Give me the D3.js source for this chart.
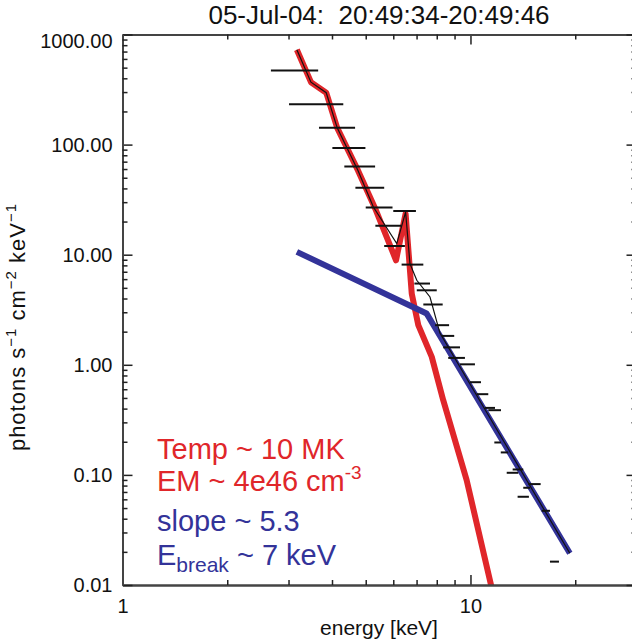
<!DOCTYPE html>
<html><head><meta charset="utf-8">
<script src="https://cdn.jsdelivr.net/npm/d3@7"></script>
<style>
body{margin:0;background:#fff}
svg{display:block}
text{font-family:"Liberation Sans",Arial,Helvetica,sans-serif}
</style>
</head><body>
<svg id="chart" width="632" height="642"></svg>
<script>
// ---------------- data ----------------
const titleText = "05-Jul-04:  20:49:34-20:49:46";
const xLabel = "energy [keV]";
const xTickValues = [1, 10];
const xTickLabels = ["1", "10"];
const yTickValues = [0.01, 0.1, 1, 10, 100, 1000];
const yTickLabels = ["0.01", "0.10", "1.00", "10.00", "100.00", "1000.00"];

// observed count-flux spectrum: energy bin edges and flux
const binLow  = [2.67, 3.01, 3.67, 4.01, 4.34, 4.67, 5.00, 6.00, 5.33, 5.65, 6.34, 6.90, 7.01, 7.32, 7.91, 8.28,
                 8.35, 8.63, 9.33, 9.97, 10.42, 11.00, 11.25, 11.71, 12.22, 13.22, 12.71, 14.66, 14.18, 13.66, 16.02, 16.92];
const binHigh = [3.65, 4.31, 4.66, 4.99, 5.32, 5.65, 5.97, 6.97, 6.34, 6.48, 7.32, 7.65, 8.00, 8.32, 8.68, 8.98,
                 9.33, 9.64, 10.30, 10.72, 11.25, 11.76, 12.24, 12.24, 12.84, 14.18, 13.72, 15.91, 14.83, 14.72, 16.92, 17.96];
const binFlux = [471, 232, 142, 92.9, 63.4, 40.6, 26.8, 25.0, 18.3, 12.0, 8.13, 5.47, 4.75, 3.53, 2.29, 1.83,
                 1.44, 1.155, 1.01, 0.695, 0.541, 0.406, 0.387, 0.197, 0.160, 0.112, 0.1045, 0.0825, 0.0764, 0.0633, 0.0472, 0.0163];

// thermal model (red)
const thermalE = [3.17, 3.48, 3.85, 4.14, 4.75, 5.35, 6.11, 6.51, 6.78, 7.08, 7.74, 8.35, 9.75, 11.5];
const thermalF = [726, 369, 296, 142, 58.3, 25.3, 8.9, 23.6, 4.44, 2.29, 1.18, 0.477, 0.0897, 0.0095];

// broken power-law model (blue)
const powerE = [3.17, 7.48, 19.3];
const powerF = [10.6, 2.92, 0.0194];

// total model (thin black)
const totalE = [3.17, 3.48, 3.85, 4.14, 4.75, 5.26, 6.14, 6.51, 6.70, 7.01, 7.65, 8.17, 19.3];
const totalF = [726, 369, 296, 142, 58.3, 27.1, 12.6, 24.4, 8.3, 5.86, 4.13, 1.94, 0.0194];

const legendLines = ["Temp ~ 10 MK", "EM ~ 4e46 cm", "slope ~ 5.3", "E"];

// ---------------- layout ----------------
const red = "#e0262a", blue = "#333399";
const L = 122.5, T = 34.5, B = 585, R = 636.5;

const svg = d3.select("#chart");
const x = d3.scaleLog().domain([1, 30]).range([L, R]);
const y = d3.scaleLog().domain([0.01, 1000]).range([B, T]);

const xMinor = [];
[1, 10].forEach(d => { for (let k = 2; k <= 9; k++) if (d * k <= 30) xMinor.push(d * k); });
const yMinor = [];
[0.01, 0.1, 1, 10, 100].forEach(d => { for (let k = 2; k <= 9; k++) yMinor.push(+(d * k).toPrecision(3)); });

svg.append("clipPath").attr("id", "clip")
  .append("rect").attr("x", L).attr("y", T).attr("width", R - L).attr("height", B - T);

const plot = svg.append("g").attr("clip-path", "url(#clip)");

const line = d3.line().x(d => x(d[0])).y(d => y(d[1]));

plot.append("path").datum(thermalE.map((e, i) => [e, thermalF[i]]))
  .attr("d", line).attr("fill", "none").attr("stroke", red).attr("stroke-width", 6)
  .attr("stroke-linejoin", "round");
plot.append("path").datum(powerE.map((e, i) => [e, powerF[i]]))
  .attr("d", line).attr("fill", "none").attr("stroke", blue).attr("stroke-width", 6)
  .attr("stroke-linejoin", "round");
plot.append("path").datum(totalE.map((e, i) => [e, totalF[i]]))
  .attr("d", line).attr("fill", "none").attr("stroke", "#111").attr("stroke-width", 1.2);

plot.selectAll("line.bin").data(binFlux.map((f, i) => ({lo: binLow[i], hi: binHigh[i], f})))
  .join("line").attr("class", "bin")
  .attr("x1", d => x(d.lo)).attr("x2", d => x(d.hi))
  .attr("y1", d => y(d.f)).attr("y2", d => y(d.f))
  .attr("stroke", "#111").attr("stroke-width", 2);

// ---------------- axes ----------------
function styleAxis(g) {
  g.attr("font-family", null).attr("font-size", null);
  g.select(".domain").attr("stroke", "#444").attr("stroke-width", 2);
  g.selectAll(".tick line").attr("stroke", "#222").attr("stroke-width", 1.5);
  g.selectAll(".tick text").attr("fill", "#111").style("font-size", "20px");
}

// bottom
svg.append("g").attr("transform", `translate(0,${B})`)
  .call(d3.axisBottom(x).tickValues(xTickValues).tickSizeInner(-10).tickSizeOuter(0).tickPadding(14)
    .tickFormat((d, i) => xTickLabels[i])).call(styleAxis);
svg.append("g").attr("transform", `translate(0,${B})`)
  .call(d3.axisBottom(x).tickValues(xMinor).tickSizeInner(-5).tickSizeOuter(0).tickFormat(""))
  .call(styleAxis);
// top
svg.append("g").attr("transform", `translate(0,${T})`)
  .call(d3.axisTop(x).tickValues(xTickValues).tickSizeInner(-10).tickSizeOuter(0).tickFormat(""))
  .call(styleAxis);
svg.append("g").attr("transform", `translate(0,${T})`)
  .call(d3.axisTop(x).tickValues(xMinor).tickSizeInner(-5).tickSizeOuter(0).tickFormat(""))
  .call(styleAxis);
// left
const yAx = svg.append("g").attr("transform", `translate(${L},0)`)
  .call(d3.axisLeft(y).tickValues(yTickValues).tickSizeInner(-10).tickSizeOuter(0).tickPadding(10)
    .tickFormat((d, i) => yTickLabels[i])).call(styleAxis);
yAx.selectAll(".tick text").attr("dy", d => (y(d) + 6.5 < 47 ? 47 - y(d) : 6.5) + "px");
svg.append("g").attr("transform", `translate(${L},0)`)
  .call(d3.axisLeft(y).tickValues(yMinor).tickSizeInner(-5).tickSizeOuter(0).tickFormat(""))
  .call(styleAxis);
// right
svg.append("g").attr("transform", `translate(${R},0)`)
  .call(d3.axisRight(y).tickValues(yTickValues).tickSizeInner(-10).tickSizeOuter(0).tickFormat(""))
  .call(styleAxis);
svg.append("g").attr("transform", `translate(${R},0)`)
  .call(d3.axisRight(y).tickValues(yMinor).tickSizeInner(-5).tickSizeOuter(0).tickFormat(""))
  .call(styleAxis);

// ---------------- titles ----------------
svg.append("text").attr("x", 379).attr("y", 24).attr("text-anchor", "middle")
  .attr("xml:space", "preserve").style("white-space", "pre")
  .style("font-size", "26px").attr("fill", "#111").text(titleText);

svg.append("text").attr("x", 379).attr("y", 635).attr("text-anchor", "middle")
  .style("font-size", "21px").attr("fill", "#111").text(xLabel);

const yl = svg.append("text").attr("transform", "translate(25,327) rotate(-90)")
  .attr("text-anchor", "middle").style("font-size", "22px").style("letter-spacing", "1px")
  .attr("fill", "#111");
yl.append("tspan").text("photons s");
yl.append("tspan").attr("dy", -9).style("font-size", "15px").text("\u22121");
yl.append("tspan").attr("dy", 9).text(" cm");
yl.append("tspan").attr("dy", -9).style("font-size", "15px").text("\u22122");
yl.append("tspan").attr("dy", 9).text(" keV");
yl.append("tspan").attr("dy", -9).style("font-size", "15px").text("\u22121");

// ---------------- legend ----------------
const lg = svg.append("g").style("font-size", "29px");
lg.append("text").attr("x", 157).attr("y", 459).attr("fill", red).text(legendLines[0]);
const em = lg.append("text").attr("x", 157).attr("y", 491).attr("fill", red);
em.append("tspan").text(legendLines[1]);
em.append("tspan").attr("dy", -12).style("font-size", "19px").text("-3");
lg.append("text").attr("x", 157).attr("y", 531).attr("fill", blue).text(legendLines[2]);
const eb = lg.append("text").attr("x", 157).attr("y", 565).attr("fill", blue);
eb.append("tspan").text(legendLines[3]);
eb.append("tspan").attr("dy", 7).style("font-size", "21px").text("break");
eb.append("tspan").attr("dy", -7).text(" ~ 7 keV");
</script>
</body></html>
